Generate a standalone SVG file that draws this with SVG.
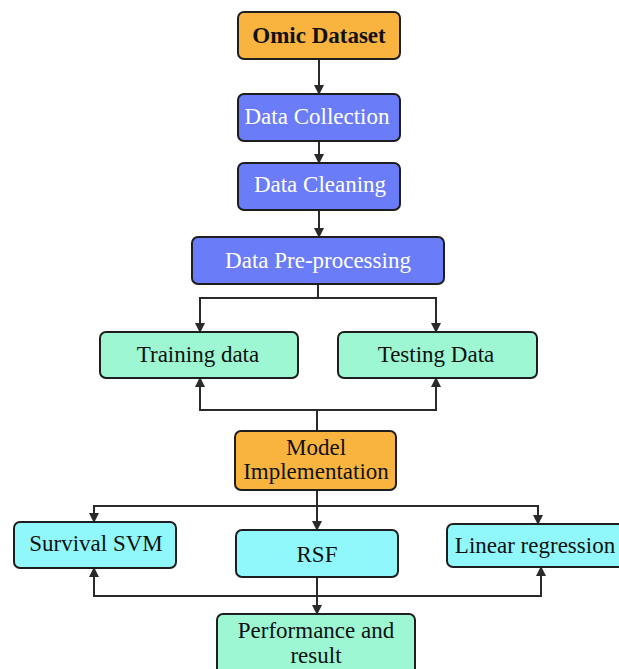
<svg xmlns="http://www.w3.org/2000/svg" width="619" height="669" viewBox="0 0 619 669">
  <style>
    .box { stroke: #1e1e1e; stroke-width: 2; }
    .orange { fill: #f9b440; }
    .blue { fill: #6b7cf8; }
    .mint { fill: #9cf7d2; }
    .cyan { fill: #90f8fa; }
    .lbl { font-family: "Liberation Serif", "Times New Roman", serif; font-size: 23px; text-anchor: middle; fill: #111; }
    .lbl.w { fill: #ffffff; }
    .bold { font-weight: bold; }
    .wire { fill: none; stroke: #2a2a2a; stroke-width: 2; }
  </style>
  <defs>
    <marker id="ah" viewBox="0 0 10 10" refX="9" refY="5" markerWidth="5" markerHeight="5" orient="auto" markerUnits="strokeWidth">
      <path d="M0,0 L10,5 L0,10 z" fill="#2a2a2a"/>
    </marker>
  </defs>

  <g id="connectors">
    <path class="wire" d="M319,59 V94" marker-end="url(#ah)"/>
    <path class="wire" d="M319,141 V163" marker-end="url(#ah)"/>
    <path class="wire" d="M319,210 V237" marker-end="url(#ah)"/>
    <path class="wire" d="M318,284 V298 H200 V332" marker-end="url(#ah)"/>
    <path class="wire" d="M318,298 H436 V332" marker-end="url(#ah)"/>
    <path class="wire" d="M317,431 V410 H200 V378" marker-end="url(#ah)"/>
    <path class="wire" d="M317,410 H436 V378" marker-end="url(#ah)"/>
    <path class="wire" d="M317,490 V530" marker-end="url(#ah)"/>
    <path class="wire" d="M317,506 H94 V522" marker-end="url(#ah)"/>
    <path class="wire" d="M317,506 H538 V524" marker-end="url(#ah)"/>
    <path class="wire" d="M317,577 V614" marker-end="url(#ah)"/>
    <path class="wire" d="M317,596 H94 V568" marker-end="url(#ah)"/>
    <path class="wire" d="M317,596 H541 V567" marker-end="url(#ah)"/>
  </g>

  <g id="omic-dataset">
    <rect class="box orange" x="238" y="12" width="162" height="47" rx="6"/>
    <text class="lbl bold" x="319" y="43">Omic Dataset</text>
  </g>
  <g id="data-collection">
    <rect class="box blue" x="238" y="94" width="162" height="47" rx="6"/>
    <text class="lbl w" x="317" y="124">Data Collection</text>
  </g>
  <g id="data-cleaning">
    <rect class="box blue" x="238" y="163" width="162" height="47" rx="6"/>
    <text class="lbl w" x="320" y="192">Data Cleaning</text>
  </g>
  <g id="data-preprocessing">
    <rect class="box blue" x="192" y="237" width="252" height="47" rx="6"/>
    <text class="lbl w" x="318" y="268">Data Pre-processing</text>
  </g>
  <g id="training-data">
    <rect class="box mint" x="100" y="332" width="198" height="46" rx="6"/>
    <text class="lbl" x="198" y="362">Training data</text>
  </g>
  <g id="testing-data">
    <rect class="box mint" x="338" y="332" width="199" height="46" rx="6"/>
    <text class="lbl" x="436" y="362">Testing Data</text>
  </g>
  <g id="model-implementation">
    <rect class="box orange" x="235" y="431" width="161" height="59" rx="6"/>
    <text class="lbl" x="316" y="455">Model</text>
    <text class="lbl" x="316" y="479">Implementation</text>
  </g>
  <g id="survival-svm">
    <rect class="box cyan" x="14" y="522" width="162" height="46" rx="6"/>
    <text class="lbl" x="96" y="551">Survival SVM</text>
  </g>
  <g id="rsf">
    <rect class="box cyan" x="236" y="530" width="162" height="47" rx="6"/>
    <text class="lbl" x="317" y="562">RSF</text>
  </g>
  <g id="linear-regression">
    <rect class="box cyan" x="447" y="524" width="190" height="43" rx="6"/>
    <text class="lbl" x="535" y="553">Linear regression</text>
  </g>
  <g id="performance-result">
    <rect class="box mint" x="217" y="614" width="198" height="70" rx="6"/>
    <text class="lbl" x="316" y="638">Performance and</text>
    <text class="lbl" x="316" y="663">result</text>
  </g>
</svg>
